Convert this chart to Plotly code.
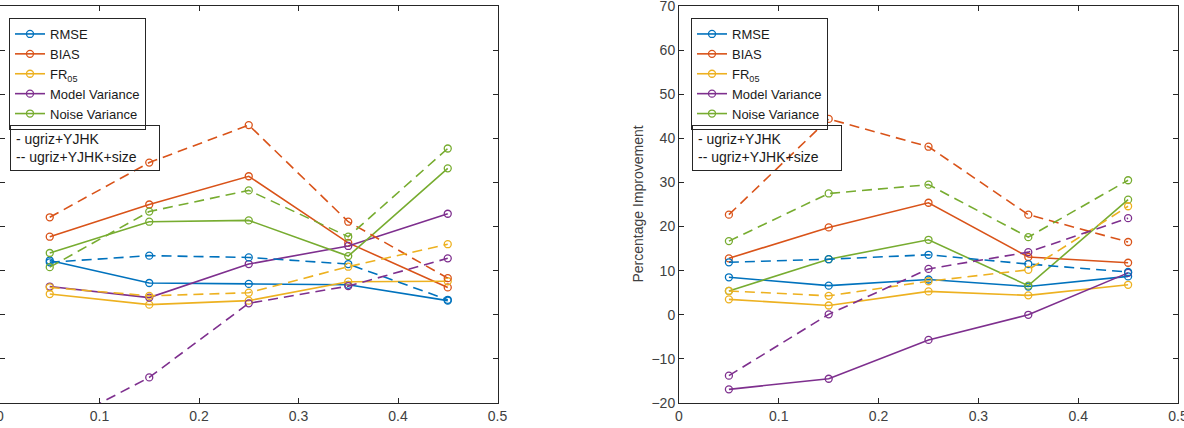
import plotly.graph_objects as go

x_vals = [0.05, 0.15, 0.25, 0.35, 0.45]
series_names = ["RMSE", "BIAS", "FR<sub>05</sub>", "Model Variance", "Noise Variance"]
colors = ["#0072BD", "#D95319", "#EDB120", "#7E2F8E", "#77AC30"]

# Left panel (solid = ugriz+YJHK, dashed = ugriz+YJHK+size)
left_solid = {
    "RMSE": [12.3, 7.2, 7.0, 6.8, 3.2],
    "BIAS": [17.7, 25.0, 31.4, 16.3, 6.2],
    "FR05": [4.7, 2.3, 3.2, 7.5, 7.6],
    "Model Variance": [6.4, 3.9, 11.5, 15.6, 22.9],
    "Noise Variance": [14.0, 21.1, 21.4, 13.3, 33.2],
}
left_dashed = {
    "RMSE": [11.9, 13.4, 13.0, 11.5, 3.4],
    "BIAS": [22.1, 34.5, 43.0, 21.1, 8.3],
    "FR05": [6.2, 4.3, 5.0, 10.9, 16.0],
    "Model Variance": [-26.0, -14.2, 2.6, 6.5, 12.8],
    "Noise Variance": [10.8, 23.4, 28.2, 17.7, 37.7],
}
# Right panel
right_solid = {
    "RMSE": [8.5, 6.6, 8.0, 6.4, 8.7],
    "BIAS": [12.8, 19.8, 25.4, 13.1, 11.8],
    "FR05": [3.5, 2.1, 5.3, 4.4, 6.8],
    "Model Variance": [-16.9, -14.5, -5.7, 0.0, 9.5],
    "Noise Variance": [5.4, 12.6, 17.0, 6.6, 26.1],
}
right_dashed = {
    "RMSE": [11.9, 12.6, 13.6, 11.5, 9.7],
    "BIAS": [22.7, 44.4, 38.1, 22.7, 16.5],
    "FR05": [5.4, 4.3, 7.6, 10.2, 24.6],
    "Model Variance": [-13.8, 0.1, 10.4, 14.2, 21.9],
    "Noise Variance": [16.7, 27.5, 29.5, 17.6, 30.5],
}
keys = ["RMSE", "BIAS", "FR05", "Model Variance", "Noise Variance"]

y_range = [-20, 70]
x_range = [0, 0.5]
ylabel = "Percentage Improvement"
note_text = "- ugriz+YJHK<br>-- ugriz+YJHK+size"

W, H = 1184, 428
ML, MR, MT, MB = 0, 6, 6, 25
PW = W - ML - MR
PH = H - MT - MB

fig = go.Figure()
FONT = "Liberation Sans, Arial, Helvetica, sans-serif"
AXC = "#262626"

def add_panel(solid, dashed, xa, ya, leg):
    for k, name, c in zip(keys, series_names, colors):
        fig.add_trace(go.Scatter(
            x=x_vals, y=solid[k], mode="lines+markers", name=name,
            line=dict(color=c, width=1.6),
            marker=dict(symbol="circle-open", size=7, color=c, line=dict(width=1.3, color=c)),
            xaxis=xa, yaxis=ya, legend=leg, showlegend=True,
        ))
    for k, name, c in zip(keys, series_names, colors):
        fig.add_trace(go.Scatter(
            x=x_vals, y=dashed[k], mode="lines+markers", name=name,
            line=dict(color=c, width=1.6, dash="10px,6px"),
            marker=dict(symbol="circle-open", size=7, color=c, line=dict(width=1.3, color=c)),
            xaxis=xa, yaxis=ya, showlegend=False,
        ))

add_panel(left_solid, left_dashed, "x", "y", "legend")
add_panel(right_solid, right_dashed, "x2", "y2", "legend2")

def px_x(p):
    return (p - ML) / PW

def px_y(p):
    return 1 - (p - MT) / PH

axis_common = dict(
    showline=True, linecolor=AXC, linewidth=1, mirror="ticks",
    ticks="inside", ticklen=5, tickcolor=AXC, tickwidth=1,
    showgrid=False, zeroline=False, automargin=False,
    ticklabeloverflow="allow",
    tickfont=dict(family=FONT, size=14, color="#404040"),
)

d1 = [0, 497.5 / PW]
d2 = [(679 - ML) / PW, 1.0]

leg_common = dict(xanchor="left", yanchor="top",
                  bgcolor="white", bordercolor=AXC, borderwidth=1,
                  font=dict(family=FONT, size=13, color="#1a1a1a"), itemwidth=30)

fig.update_layout(
    width=W, height=H,
    margin=dict(l=ML, r=MR, t=MT, b=MB, pad=0),
    paper_bgcolor="white", plot_bgcolor="white",
    font=dict(family=FONT, size=14, color=AXC),
    xaxis=dict(domain=d1, range=x_range, dtick=0.1, tick0=0, anchor="y", **axis_common),
    yaxis=dict(domain=[0, 1], range=y_range, dtick=10, anchor="x", showticklabels=False,
               **axis_common),
    xaxis2=dict(domain=d2, range=x_range, dtick=0.1, tick0=0, anchor="y2", **axis_common),
    yaxis2=dict(domain=[0, 1], range=y_range, dtick=10, anchor="x2", **axis_common),
    legend=dict(x=px_x(9), y=px_y(18), **leg_common),
    legend2=dict(x=px_x(691), y=px_y(18), **leg_common),
    showlegend=True,
)

for bx in [10, 692]:
    fig.add_annotation(
        text=note_text, xref="paper", yref="paper",
        x=px_x(bx), y=px_y(125), xanchor="left", yanchor="top",
        showarrow=False, align="left", width=138, borderpad=5,
        bordercolor=AXC, borderwidth=1,
        font=dict(family=FONT, size=14, color="#1a1a1a"),
    )

fig.add_annotation(
    text=ylabel, xref="paper", yref="paper", x=px_x(637), y=0.5,
    xanchor="center", yanchor="middle", textangle=-90, showarrow=False,
    font=dict(family=FONT, size=14, color="#404040"),
)

fig.write_html("out.html")
